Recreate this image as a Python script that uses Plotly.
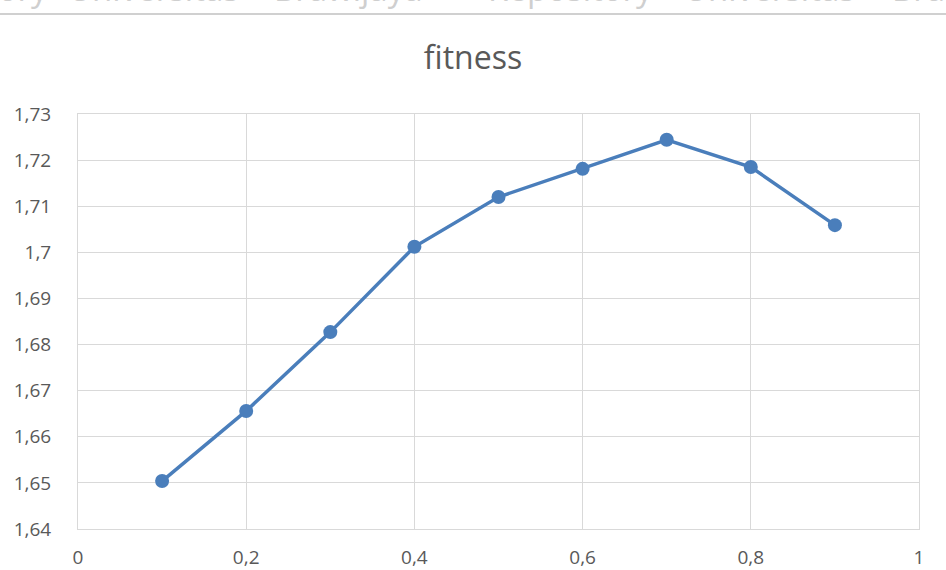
import plotly.graph_objects as go

x_vals = [0.1, 0.2, 0.3, 0.4, 0.5, 0.6, 0.7, 0.8, 0.9]
fitness = [1.6504, 1.6656, 1.6827, 1.7012, 1.7120, 1.7181, 1.7244, 1.7185, 1.7059]
y_ticks = [1.64, 1.65, 1.66, 1.67, 1.68, 1.69, 1.70, 1.71, 1.72, 1.73]
x_ticks = [0, 0.2, 0.4, 0.6, 0.8, 1.0]
watermark_words = ["Repository", "Universitas", "Brawijaya", "Repository", "Universitas", "Brawijaya"]
watermark_px = [50, 66, 272, 486, 682, 890]

W, H = 946, 570
L, R, T, B = 78, 27, 114, 41
pw, ph = W - L - R, H - T - B

def px_to_paper_x(px):
    return (px - L) / pw

def px_to_paper_y(py):
    return (H - B - py) / ph

fig = go.Figure()
fig.add_trace(go.Scatter(
    x=x_vals, y=fitness, mode="lines+markers",
    line=dict(color="#4a7ebb", width=3.5),
    marker=dict(color="#4a7ebb", size=14),
    showlegend=False, cliponaxis=False,
))

font_family = "Open Sans, Liberation Sans, sans-serif"
axis_common = dict(
    showgrid=True, gridcolor="#d9d9d9", gridwidth=1,
    showline=True, linecolor="#d9d9d9", linewidth=1, mirror=True,
    zeroline=False, ticks="", automargin=False,
    tickfont=dict(family=font_family, size=19, color="#595959"),
)
fig.update_xaxes(range=[0, 1], tickvals=x_ticks, ticklabelstandoff=11, **axis_common)
fig.update_yaxes(range=[1.64, 1.73], tickvals=y_ticks, ticklabelstandoff=22, **axis_common)

annotations = []
for i, (w, p) in enumerate(zip(watermark_words, watermark_px)):
    annotations.append(dict(
        text=w, xref="paper", yref="paper",
        x=px_to_paper_x(p), y=px_to_paper_y(13),
        xanchor="right" if i == 0 else "left", yanchor="bottom",
        showarrow=False,
        font=dict(family=font_family, size=33, color="#cfcfcf"),
    ))

fig.update_layout(
    width=W, height=H,
    margin=dict(l=L, r=R, t=T, b=B),
    paper_bgcolor="white", plot_bgcolor="white",
    separators=",.",
    title=dict(text="fitness", x=0.5, xref="container", xanchor="center",
               y=1 - 58 / H, yanchor="middle",
               font=dict(family=font_family, size=32, color="#595959")),
    annotations=annotations,
    shapes=[dict(type="line", xref="paper", yref="paper",
                 x0=px_to_paper_x(0), x1=px_to_paper_x(W),
                 y0=px_to_paper_y(14), y1=px_to_paper_y(14),
                 line=dict(color="#d0d0d0", width=2))],
)

fig.write_html("out.html", config={"displayModeBar": False},
               post_script="document.body.style.margin='0';document.body.style.overflow='hidden';")
